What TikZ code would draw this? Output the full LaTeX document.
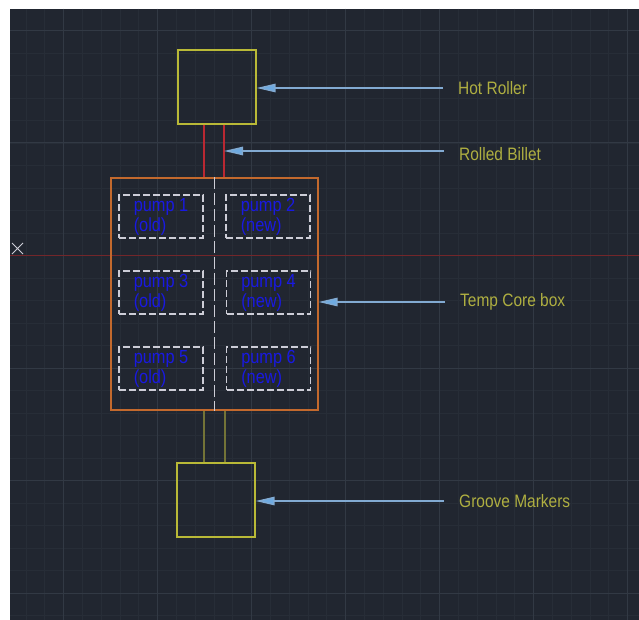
\documentclass[tikz,border=0pt]{standalone}
\usepackage{fontspec}
\setmainfont{Liberation Sans}[FakeStretch=0.86]
\usepackage{tikz}
\usetikzlibrary{arrows.meta,positioning}
\definecolor{cadbg}{RGB}{33,38,48}
\definecolor{gridminor}{RGB}{39,45,55}
\definecolor{gridmajor}{RGB}{50,57,68}
\definecolor{axisred}{RGB}{115,38,42}
\definecolor{rollerylw}{RGB}{185,185,55}
\definecolor{labelolive}{RGB}{175,175,65}
\definecolor{coreorange}{RGB}{195,105,45}
\definecolor{billetred}{RGB}{185,40,50}
\definecolor{grooveolive}{RGB}{115,115,55}
\definecolor{pumpgrey}{RGB}{205,205,215}
\definecolor{pumpblue}{RGB}{25,25,225}
\definecolor{calloutblue}{RGB}{130,170,210}
\definecolor{arrowblue}{RGB}{110,170,225}

\begin{document}
\begin{tikzpicture}[x=1pt,y=-1pt,
  every node/.style={font=\fontsize{18}{20}\selectfont},
  rollerbox/.style={draw=rollerylw,line width=1.2pt,minimum width=78pt,minimum height=74pt,inner sep=0pt},
  corebox/.style={draw=coreorange,line width=1.1pt,minimum width=207pt,minimum height=232pt,inner sep=0pt},
  pumpbox/.style={draw=pumpgrey,line width=1.2pt,dash pattern=on 7pt off 3pt,minimum width=84pt,minimum height=43pt,
    inner sep=0pt,text=pumpblue,align=left,font=\fontsize{19}{20}\selectfont},
  tag/.style={text=labelolive,inner sep=0pt,anchor=west},
  callout/.style={draw=calloutblue,line width=1.3pt,shorten <=15pt,
    -{Triangle[length=19pt,width=8.5pt,fill=arrowblue]}},
  billetline/.style={draw=billetred,line width=1.1pt},
  grooveline/.style={draw=grooveolive,line width=1.1pt}]
  \useasboundingbox (0,0) rectangle (639,620);
  \fill[white] (0,0) rectangle (639,620);
  \fill[cadbg] (10,9) rectangle (639,620);
  % drawing grid
  \foreach \i in {1,...,33}
    \draw[gridminor,line width=0.8pt] ({7.1+18.8*\i},9) -- ({7.1+18.8*\i},620);
  \foreach \j in {0,...,26}
    \draw[gridminor,line width=0.8pt] (10,{30.5+22.5*\j}) -- (639,{30.5+22.5*\j});
  \foreach \i in {0,...,6}
    \draw[gridmajor,line width=1pt] ({63.5+94*\i},9) -- ({63.5+94*\i},620);
  \foreach \j in {0,...,5}
    \draw[gridmajor,line width=1pt] (10,{30.5+112.5*\j}) -- (639,{30.5+112.5*\j});
  \draw[axisred,line width=1pt] (10,255.5) -- (639,255.5);
  \draw[pumpgrey,line width=1pt] (12,243) -- (23,254) (12,254) -- (23,243);
  % boxes
  \node[rollerbox] (roller) at (217,87) {};
  \node[corebox] (core) at (214.5,294) {};
  \node[rollerbox] (groove) at (216,500) {};
  \draw[pumpgrey,line width=1.2pt,dash pattern=on 12pt off 4pt] (core.north) -- (core.south);
  \node[pumpbox] (pump1) at (161,216.5) {pump 1\\(old)};
  \node[pumpbox] (pump2) at (268,216.5) {pump 2\\(new)};
  \node[pumpbox] (pump3) at (161,292.5) {pump 3\\(old)};
  \node[pumpbox] (pump4) at (268.5,292.5) {pump 4\\(new)};
  \node[pumpbox] (pump5) at (161,368.5) {pump 5\\(old)};
  \node[pumpbox] (pump6) at (268.5,368.5) {pump 6\\(new)};
  % billet and groove lines
  \draw[billetline] ([xshift=-13pt]roller.south) -- ([xshift=-13pt]roller.south |- core.north);
  \draw[billetline] ([xshift=7pt]roller.south) -- ([xshift=7pt]roller.south |- core.north);
  \coordinate (billet) at (224,151);
  \draw[grooveline] ([xshift=-12pt]groove.north) -- ([xshift=-12pt]groove.north |- core.south);
  \draw[grooveline] ([xshift=9pt]groove.north) -- ([xshift=9pt]groove.north |- core.south);
  % labels and callouts
  \node[tag] (rollerlbl) at (458,88) {Hot Roller};
  \node[tag] (billetlbl) at (459,154.5) {Rolled Billet};
  \node[tag] (corelbl) at (460,302) {Temp Core box};
  \node[tag] (groovelbl) at (459,501) {Groove Markers};
  \draw[callout] (rollerlbl.west) -- (rollerlbl.west -| roller.east);
  \draw[callout] (billetlbl.west |- billet) -- (billet);
  \draw[callout] (corelbl.west) -- (corelbl.west -| core.east);
  \draw[callout] (groovelbl.west) -- (groovelbl.west -| groove.east);
\end{tikzpicture}
\end{document}
